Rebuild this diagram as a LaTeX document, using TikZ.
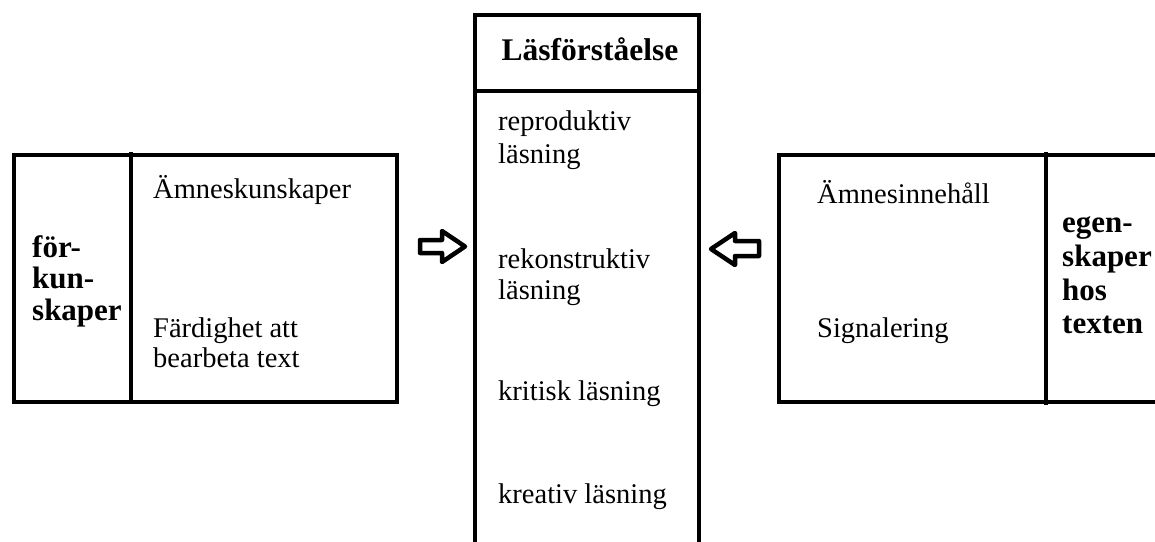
\documentclass[tikz,border=0pt]{standalone}
\usepackage{fontspec}
\setmainfont{Liberation Serif}
\begin{document}
\begin{tikzpicture}[x=1pt,y=-1pt,
  frame/.style={line width=4.5pt},
  blockarrow/.style={line width=4.5pt, line join=round, fill=white},
  txt/.style={anchor=base west, inner sep=0pt, font=\fontsize{28.5}{32}\selectfont},
  btxt/.style={anchor=base west, inner sep=0pt, font=\fontsize{31}{34}\selectfont\bfseries}]
\useasboundingbox (0,0) rectangle (1155,541);
% left box
\draw[frame] (14,155) rectangle (397,402);
\draw[frame] (131,152) -- (131,404);
\node[btxt] (f1) at (32,257) {för-};
\node[btxt] (f2) at (32,288) {kun-};
\node[btxt] (f3) at (32,320) {skaper};
\node[txt] (a1) at (153,198) {Ämneskunskaper};
\node[txt] (a2) at (153,337) {Färdighet att};
\node[txt] (a3) at (153,367) {bearbeta text};
% centre box
\draw[frame] (475,580) -- (475,15) -- (699,15) -- (699,580);
\draw[frame] (475,91) -- (699,91);
\node[btxt, anchor=base, font=\fontsize{31.5}{34}\selectfont\bfseries] (h) at (590,60) {Läsförståelse};
\node[txt] (c1) at (498,130) {reproduktiv};
\node[txt] (c2) at (498,163) {läsning};
\node[txt] (c3) at (498,268) {rekonstruktiv};
\node[txt] (c4) at (498,299) {läsning};
\node[txt] (c5) at (498,400) {kritisk läsning};
\node[txt] (c6) at (498,503) {kreativ läsning};
% right box
\draw[frame] (1170,155) -- (779,155) -- (779,402) -- (1170,402);
\draw[frame] (1046,152) -- (1046,405);
\node[txt] (r1) at (817,203) {Ämnesinnehåll};
\node[txt] (r2) at (817,337) {Signalering};
\node[btxt] (e1) at (1062,232) {egen-};
\node[btxt] (e2) at (1062,266) {skaper};
\node[btxt] (e3) at (1062,300) {hos};
\node[btxt] (e4) at (1062,333) {texten};
% block arrows
\draw[blockarrow] (420,240) -- (442,240) -- (442,231) -- (465,246.5) -- (442,262) -- (442,253) -- (420,253) -- cycle;
\draw[blockarrow] (759,241) -- (735,241) -- (735,233) -- (711,249) -- (735,265) -- (735,256) -- (759,256) -- cycle;
\end{tikzpicture}
\end{document}
